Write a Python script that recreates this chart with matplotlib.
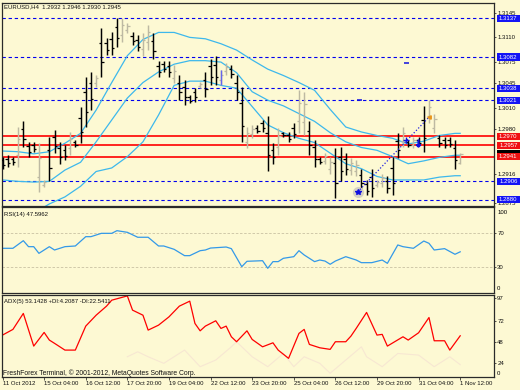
import matplotlib
matplotlib.use('Agg')
import matplotlib.pyplot as plt
from matplotlib.patches import Rectangle
from matplotlib.transforms import blended_transform_factory

plt.rcParams['font.family'] = ['Liberation Sans', 'DejaVu Sans']

# EURUSD H4 bars
bar_open = [1.2936, 1.2938, 1.2937, 1.2944, 1.2980, 1.2956, 1.2958, 1.2912, 1.2901, 1.2950,
            1.2969, 1.2953, 1.2951, 1.2953, 1.2962, 1.2996, 1.3033, 1.3045, 1.3045, 1.3102,
            1.3102, 1.3108, 1.3125, 1.3114, 1.3120, 1.3112, 1.3106, 1.3093, 1.3103, 1.3105,
            1.3069, 1.3072, 1.3069, 1.3053, 1.3046, 1.3039, 1.3025, 1.3032, 1.3041, 1.3050,
            1.3069, 1.3071, 1.3049, 1.3062, 1.3065, 1.3046, 1.3017, 1.2962, 1.2973, 1.2982,
            1.2988, 1.2975, 1.2951, 1.2955, 1.2974, 1.2972, 1.2982, 1.2992, 1.2990, 1.2977,
            1.2954, 1.2938, 1.2935, 1.2924, 1.2932, 1.2940, 1.2937, 1.2922, 1.2920, 1.2915,
            1.2902, 1.2912, 1.2901, 1.2904, 1.2906, 1.2925, 1.2963, 1.2963, 1.2962, 1.2958,
            1.2965, 1.2993, 1.2998, 1.2982, 1.2967, 1.2964, 1.2965, 1.2953, 1.2932]
bar_high = [1.2941, 1.2943, 1.2941, 1.2983, 1.2991, 1.2962, 1.2962, 1.2960, 1.2908, 1.2969,
            1.2979, 1.2962, 1.2957, 1.2976, 1.2965, 1.3012, 1.3054, 1.3061, 1.3057, 1.3123,
            1.3109, 1.3118, 1.3137, 1.3137, 1.3130, 1.3118, 1.3113, 1.3116, 1.3128, 1.3116,
            1.3076, 1.3076, 1.3076, 1.3071, 1.3057, 1.3050, 1.3028, 1.3038, 1.3047, 1.3061,
            1.3080, 1.3083, 1.3064, 1.3073, 1.3071, 1.3057, 1.3040, 1.2983, 1.2986, 1.2986,
            1.2993, 1.2998, 1.2960, 1.2981, 1.2976, 1.2976, 1.2988, 1.3035, 1.3033, 1.2991,
            1.2965, 1.2941, 1.2946, 1.2941, 1.2953, 1.2955, 1.2946, 1.2939, 1.2936, 1.2924,
            1.2908, 1.2924, 1.2908, 1.2917, 1.2913, 1.2941, 1.2974, 1.2983, 1.2965, 1.2969,
            1.2969, 1.3013, 1.3021, 1.3002, 1.2972, 1.2969, 1.2969, 1.2965, 1.2946]
bar_low = [1.2924, 1.2927, 1.2929, 1.2927, 1.2955, 1.2941, 1.2948, 1.2891, 1.2898, 1.2906,
           1.2946, 1.2931, 1.2936, 1.2943, 1.2955, 1.2960, 1.2983, 1.3007, 1.3040, 1.3054,
           1.3085, 1.3085, 1.3097, 1.3104, 1.3116, 1.3099, 1.3090, 1.3083, 1.3092, 1.3080,
           1.3054, 1.3061, 1.3054, 1.3045, 1.3021, 1.3014, 1.3017, 1.3019, 1.3038, 1.3026,
           1.3042, 1.3042, 1.3042, 1.3057, 1.3052, 1.3021, 1.2962, 1.2953, 1.2967, 1.2974,
           1.2976, 1.2920, 1.2931, 1.2943, 1.2969, 1.2962, 1.2967, 1.2974, 1.2972, 1.2943,
           1.2927, 1.2931, 1.2931, 1.2917, 1.2882, 1.2906, 1.2915, 1.2915, 1.2913, 1.2894,
           1.2887, 1.2884, 1.2898, 1.2898, 1.2889, 1.2887, 1.2939, 1.2955, 1.2955, 1.2953,
           1.2957, 1.2948, 1.2988, 1.2974, 1.2955, 1.2953, 1.2955, 1.2924, 1.2930]
bar_close = [1.2929, 1.2932, 1.2933, 1.2966, 1.2966, 1.2947, 1.2952, 1.2939, 1.2905, 1.2925,
             1.2956, 1.2940, 1.2942, 1.2966, 1.2958, 1.2976, 1.3004, 1.3023, 1.3052, 1.3075,
             1.3092, 1.3095, 1.3109, 1.3127, 1.3126, 1.3105, 1.3097, 1.3106, 1.3117, 1.3091,
             1.3061, 1.3065, 1.3061, 1.3063, 1.3032, 1.3025, 1.3020, 1.3025, 1.3044, 1.3037,
             1.3054, 1.3054, 1.3057, 1.3068, 1.3058, 1.3032, 1.2985, 1.2974, 1.2980, 1.2978,
             1.2981, 1.2943, 1.2940, 1.2970, 1.2971, 1.2966, 1.2973, 1.3017, 1.3015, 1.2957,
             1.2938, 1.2934, 1.2942, 1.2934, 1.2903, 1.2921, 1.2924, 1.2932, 1.2929, 1.2903,
             1.2893, 1.2896, 1.2905, 1.2911, 1.2896, 1.2903, 1.2950, 1.2975, 1.2958, 1.2964,
             1.2961, 1.2968, 1.3011, 1.2994, 1.2960, 1.2958, 1.2959, 1.2936, 1.2945]

time_ticks = [0, 8, 16, 24, 32, 40, 48, 56, 64, 72, 80, 88]
time_labels = ['11 Oct 2012', '15 Oct 04:00', '16 Oct 12:00', '17 Oct 20:00',
               '19 Oct 04:00', '22 Oct 12:00', '23 Oct 20:00', '25 Oct 04:00',
               '26 Oct 12:00', '29 Oct 20:00', '31 Oct 04:00', '1 Nov 12:00']

# bollinger bands, read every third bar
bb_idx = list(range(0, 88, 3)) + [88]
bb_upper = [1.2949, 1.2948, 1.2945, 1.2948, 1.2960, 1.2974, 1.3007, 1.3046, 1.3084, 1.3107,
            1.3117, 1.3117, 1.3110, 1.3108, 1.3101, 1.3092, 1.3078, 1.3065, 1.3056, 1.3046,
            1.3035, 1.3008, 1.2983, 1.2976, 1.2971, 1.2967, 1.2959, 1.2963, 1.2971, 1.2974,
            1.2974]
bb_middle = [1.2908, 1.2906, 1.2905, 1.2906, 1.2922, 1.2933, 1.2962, 1.2993, 1.3024, 1.3046,
             1.3061, 1.3072, 1.3077, 1.3077, 1.3075, 1.3060, 1.3033, 1.3021, 1.3013, 1.3002,
             1.2991, 1.2975, 1.2962, 1.2954, 1.2950, 1.2941, 1.2931, 1.2935, 1.2940, 1.2943,
             1.2943]
bb_lower_idx = list(range(6, 88, 3)) + [88]
bb_lower = [1.2861, 1.2874, 1.2884, 1.2899, 1.2920, 1.2925, 1.2941, 1.2962, 1.3000, 1.3042,
            1.3048, 1.3048, 1.3042, 1.3038, 1.3012, 1.2986, 1.2975, 1.2967, 1.2961, 1.2946,
            1.2931, 1.2924, 1.2913, 1.2908, 1.2908, 1.2908, 1.2912, 1.2914, 1.2914]

levels_blue = [1.3137, 1.3082, 1.3038, 1.3021, 1.2906, 1.2880]
levels_red = [1.2970, 1.2957, 1.2941]
price_now = 1.2945
price_ticks = [1.3145, 1.3110, 1.3075, 1.3045, 1.3010, 1.2980, 1.2916, 1.2875]

# trade marks
trade_idx = [68.3, 82.0]
trade_price = [1.2891, 1.2997]
signal_bar = 42
dash_idx = [77.6, 68.7]
dash_price = [1.3073, 1.3021]

rsi_idx = [0, 2, 4, 5, 6, 7, 9, 10, 12, 14, 16, 17, 19, 21, 22, 24, 26, 28, 30, 31,
           33, 35, 36, 38, 39, 40, 43, 44, 46, 47, 50, 51, 52, 53, 54, 56, 57, 58, 60, 61,
           62, 63, 64, 66, 68, 69, 71, 73, 74, 76, 77, 79, 81, 82, 83, 85, 87, 88]
rsi_val = [51.7, 51.7, 60.6, 53.6, 53.6, 45.8, 53.6, 49.7, 53.6, 54.4, 65.3, 65.3, 69.2, 69.2,
           72.3, 70.4, 64.6, 64.6, 54.4, 54.4, 50.5, 43.1, 43.1, 48.9, 49.7, 52.0, 53.2, 51.3,
           30.2, 36.5, 37.2, 28.3, 36.1, 36.1, 40.0, 41.9, 48.9, 43.9, 36.1, 38.0, 36.8, 33.0,
           36.8, 41.9, 38.0, 34.9, 34.9, 38.0, 34.1, 55.6, 53.6, 51.7, 60.2, 57.5, 49.7, 51.3,
           44.7, 47.6]

adx_idx = [0, 2, 4, 6, 8, 9, 10, 12, 14, 16, 18, 20, 21, 24, 25, 27, 28, 30, 32, 34,
           36, 37, 38, 39, 41, 42, 43, 44, 45, 47, 48, 50, 52, 53, 55, 57, 58, 59, 61, 63,
           64, 66, 67, 68, 70, 72, 73, 74, 77, 78, 80, 82, 83, 85, 86, 88]
adx_val = [55.8, 62.2, 80.2, 43.4, 58.8, 50.2, 46.5, 38.9, 38.9, 65.9, 78.2, 88.4, 95.1, 99.9,
           83.9, 78.2, 61.4, 67.0, 76.3, 88.4, 94.0, 68.9, 60.6, 65.9, 71.9, 63.3, 65.9, 53.9,
           48.3, 60.6, 50.9, 42.6, 47.1, 38.9, 29.6, 57.7, 62.2, 45.3, 41.5, 39.7, 48.3, 48.3,
           54.7, 63.3, 81.3, 55.8, 56.6, 43.4, 53.9, 50.2, 58.4, 75.6, 49.4, 49.4, 38.9, 55.0]
mdi_idx = [24, 26, 28, 31, 35, 38, 41, 44, 45, 48, 51, 54, 56, 58, 61, 63, 66, 69, 70, 73,
           76, 80, 83, 86, 88]
mdi_val = [31.4, 37.0, 31.4, 24.0, 38.9, 20.2, 27.7, 42.6, 48.3, 31.4, 20.2, 35.1, 20.2, 31.4,
           24.0, 12.8, 27.7, 42.6, 31.4, 20.2, 35.1, 33.3, 20.2, 31.4, 22.5]

BG = '#FDF9D3'
FS = 4.3
W, H = 520, 390


def place(l, t, r, b):
    return [l / W, 1 - b / H, (r - l) / W, (b - t) / H]


fig = plt.figure(figsize=(5.2, 3.9), dpi=100, facecolor=BG)
ax = fig.add_axes(place(2, 3, 494, 206))
ax_rsi = fig.add_axes(place(2, 207, 494, 292.5))
ax_adx = fig.add_axes(place(2, 294.5, 494, 377))

for a in (ax, ax_rsi, ax_adx):
    a.set_facecolor(BG)
    a.set_xlim(-0.1, 94.5)
    for s in a.spines.values():
        s.set_color('#2a2a2a')
        s.set_linewidth(0.9)
    a.yaxis.tick_right()
    a.tick_params(axis='y', direction='out', length=1.5, width=0.5, pad=0.8,
                  labelsize=FS, colors='#111111')
    a.set_xticks([])

# --- price panel ---
ax.set_ylim(1.28711, 1.31587)
for lv in levels_blue:
    ax.axhline(lv, color='#0000F0', lw=0.8, ls=(0, (3, 2.5)), zorder=1)
for lv in levels_red:
    ax.axhline(lv, color='#FF0000', lw=1.2, zorder=1)

ax.plot(bb_idx, bb_upper, color='#3DB8EC', lw=0.9, zorder=2)
ax.plot(bb_idx, bb_middle, color='#3DB8EC', lw=0.9, zorder=2)
ax.plot(bb_lower_idx, bb_lower, color='#3DB8EC', lw=0.9, zorder=2)

idx = list(range(len(bar_open)))
cols = ['#BDB9A2' if c > o else '#000000' for o, c in zip(bar_open, bar_close)]
ax.vlines(idx, bar_low, bar_high, colors=cols, lw=1.05, zorder=3)
ax.hlines(bar_open, [i - 0.45 for i in idx], idx, colors=cols, lw=0.9, zorder=3)
ax.hlines(bar_close, idx, [i + 0.45 for i in idx], colors=cols, lw=0.9, zorder=3)

# trade marks
ax.plot(trade_idx[0], trade_price[0], 'o', ms=7, color='#D5D1C2', zorder=3)
ax.plot(trade_idx, trade_price, color='#2020E0', lw=0.9, ls=(0, (1, 1.6)), zorder=4)
ax.plot(trade_idx[0], trade_price[0], '*', ms=4, color='#1010E0', zorder=5)
ax.plot(trade_idx[1], trade_price[1], '<', ms=2.5, color='#E8951C', zorder=5)
ax.vlines(signal_bar, bar_low[signal_bar], bar_high[signal_bar], colors='#6464EE', lw=1.0, zorder=4)
ax.plot(77.5, 1.2964, '+', ms=4, mew=1.0, color='#1010E0', zorder=5)
ax.plot(79.8, 1.2961, marker=r'$\downarrow$', ms=5, color='#1010E0', zorder=5)
ax.hlines(dash_price, [d - 0.5 for d in dash_idx], [d + 0.5 for d in dash_idx],
          colors='#1010E0', lw=1.1, zorder=4)

ax.set_yticks(price_ticks)
ax.set_yticklabels([f'{v:.4f}' for v in price_ticks])

# level labels on the price scale
tr = blended_transform_factory(ax.transAxes, ax.transData)
bh = 7.3 / 7043


def level_box(price, fc):
    ax.add_patch(Rectangle((1.006, price - bh / 2), 0.048, bh, transform=tr,
                           facecolor=fc, edgecolor='none', clip_on=False, zorder=6))
    ax.text(1.029, price, f'{price:.4f}', transform=tr, color='white', fontsize=FS,
            ha='center', va='center', clip_on=False, zorder=7)


for lv in levels_blue:
    level_box(lv, '#1414F5')
ax.add_patch(Rectangle((1.006, price_now - bh / 2), 0.048, bh, transform=tr,
                       facecolor='#000000', edgecolor='none', clip_on=False, zorder=6))
for lv in levels_red:
    level_box(lv, '#F01212')

# --- RSI panel ---
ax_rsi.set_ylim(0, 100)
for lv in (70, 30):
    ax_rsi.axhline(lv, color='#C9C2A2', lw=0.6, ls=(0, (3, 2)))
ax_rsi.plot(rsi_idx, rsi_val, color='#3399E8', lw=0.9)
ax_rsi.set_yticks([70, 30])
ax_rsi.set_yticklabels(['70', '30'])
ax_rsi.text(1.0065, 0.933, '100', transform=ax_rsi.transAxes, fontsize=FS, va='center')
ax_rsi.text(1.0065, 0.05, '0', transform=ax_rsi.transAxes, fontsize=FS, va='center')

# --- ADX panel ---
ax_adx.set_ylim(8.6, 101.5)
ax_adx.plot(mdi_idx, mdi_val, color='#F7E7D2', lw=0.8)
ax_adx.plot(adx_idx, adx_val, color='#FF0000', lw=0.9)
ax_adx.set_yticks([97, 72, 48, 24])
ax_adx.set_yticklabels(['97', '72', '48', '24'])
ax_adx.text(1.0065, 0.04, '0', transform=ax_adx.transAxes, fontsize=FS, va='center')
ax_adx.set_xticks(time_ticks)
ax_adx.set_xticklabels(time_labels, ha='left')
ax_adx.tick_params(axis='x', direction='out', length=2, width=0.5, pad=1.2,
                   labelsize=FS, colors='#111111')

# captions
fig.text(4 / W, 1 - 6.5 / H, 'EURUSD,H4  1.2932 1.2946 1.2930 1.2945', fontsize=FS,
         va='center', color='#111111')
fig.text(4 / W, 1 - 214.5 / H, 'RSI(14) 47.5962', fontsize=FS, va='center', color='#111111')
fig.text(4 / W, 1 - 301 / H, 'ADX(5) 53.1428 +DI:4.2087 -DI:22.5411', fontsize=FS,
         va='center', color='#111111')
fig.text(3 / W, 1 - 373.5 / H, 'FreshForex Terminal, \u00a9 2001-2012, MetaQuotes Software Corp.',
         fontsize=4.9, va='center', color='#111111')

fig.savefig('out.png', dpi=100, facecolor=BG)
